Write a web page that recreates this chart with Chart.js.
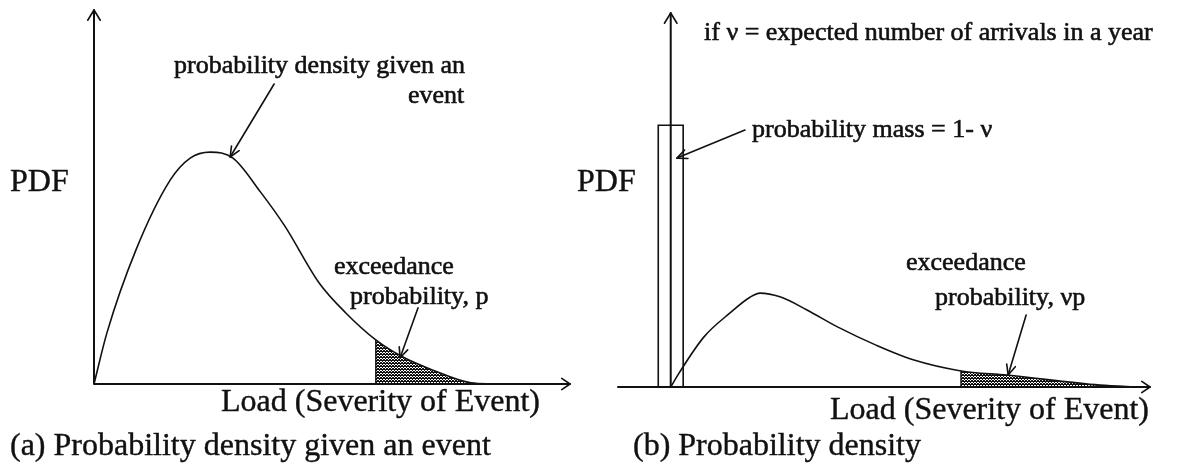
<!DOCTYPE html>
<html>
<head>
<meta charset="utf-8">
<script src="https://cdn.jsdelivr.net/npm/chart.js@4.4.1/dist/chart.umd.min.js"></script>
<style>
  html, body { margin: 0; padding: 0; background: #fff; overflow: hidden; }
  #wrap { position: relative; width: 1185px; height: 471px; background: #fff; }
  canvas { position: absolute; top: 0; }
  #ca { left: 0; }
  #cb { left: 576px; }
</style>
</head>
<body>
<div id="wrap">
  <canvas id="ca" width="576" height="471"></canvas>
  <canvas id="cb" width="609" height="471"></canvas>
</div>
<script>
// (a) density of the load, given that an event occurs
const loadA = [0, 0.27, 0.88, 1.60, 2.02, 2.44, 2.92, 3.50, 4.01, 4.73, 5.29, 5.92, 6.49, 7.12, 7.92, 8.40];
const pdfA  = [0, 0.136, 0.358, 0.545, 0.604, 0.620, 0.604, 0.513, 0.422, 0.270, 0.190, 0.118, 0.072, 0.037, 0.003, 0];
const exceedFromA = 5.92;

// (b) annual density: a point mass at zero load plus the event density scaled by nu
const loadB = [0, 0.173, 0.694, 1.237, 1.654, 1.863, 2.280, 2.843, 3.490, 4.283, 5.076, 6.056, 7.016, 8.956, 9.79];
const pdfB  = [0, 0.037, 0.134, 0.198, 0.240, 0.251, 0.241, 0.206, 0.160, 0.112, 0.072, 0.043, 0.032, 0.005, 0];
const exceedFromB = 6.056;
const massHalfWidth = 0.26;
const massHeight = 0.70;

const SERIF = '"Liberation Serif", "Times New Roman", serif';
const INK = '#111';

// stippled fill used for the exceedance areas
function stipple() {
  const c = document.createElement('canvas');
  c.width = 3; c.height = 3;
  const g = c.getContext('2d');
  g.fillStyle = '#fff';
  g.fillRect(0, 0, 3, 3);
  g.fillStyle = '#111';
  [[0,0],[2,0],[1,1],[0,2],[2,2],[1,0]].forEach(([x,y]) => g.fillRect(x, y, 1, 1));
  return g.createPattern(c, 'repeat');
}

function pts(xs, ys) { return xs.map((x, i) => ({ x, y: ys[i] })); }

function chevron(ctx, tip, from, len, ang) {
  const a = Math.atan2(tip.y - from.y, tip.x - from.x);
  ctx.beginPath();
  ctx.moveTo(tip.x - len * Math.cos(a - ang), tip.y - len * Math.sin(a - ang));
  ctx.lineTo(tip.x, tip.y);
  ctx.lineTo(tip.x - len * Math.cos(a + ang), tip.y - len * Math.sin(a + ang));
  ctx.stroke();
}

// axes with arrow heads, callout arrows, labels
const diagram = {
  id: 'diagram',
  afterDatasetsDraw(chart, args, opts) {
    const { ctx, chartArea: area, scales: { x, y } } = chart;
    const x0 = x.getPixelForValue(0);
    const y0 = y.getPixelForValue(0);
    ctx.save();
    ctx.strokeStyle = INK;
    ctx.lineCap = 'round';
    ctx.lineJoin = 'round';

    // edge of the shaded tail
    ctx.lineWidth = 1.4;
    const sx = x.getPixelForValue(opts.shadeFrom.x);
    ctx.beginPath();
    ctx.moveTo(sx, y.getPixelForValue(opts.shadeFrom.y));
    ctx.lineTo(sx, y0);
    ctx.stroke();

    // axes
    ctx.lineWidth = 2;
    ctx.beginPath();
    ctx.moveTo(x0, y0);
    ctx.lineTo(x0, area.top);
    ctx.moveTo(area.left, y0);
    ctx.lineTo(area.right, y0);
    ctx.stroke();
    ctx.lineWidth = 1.6;
    chevron(ctx, { x: x0, y: area.top }, { x: x0, y: y0 }, 12, 0.55);
    chevron(ctx, { x: area.right, y: y0 }, { x: area.left, y: y0 }, 10, 0.6);

    // callout arrows, tip anchored on the drawn data
    ctx.lineWidth = 1.6;
    opts.callouts.forEach(c => {
      const tip = { x: x.getPixelForValue(c.at[0]), y: y.getPixelForValue(c.at[1]) };
      const tail = { x: tip.x + c.tail[0], y: tip.y + c.tail[1] };
      ctx.beginPath();
      ctx.moveTo(tail.x, tail.y);
      ctx.lineTo(tip.x, tip.y);
      ctx.stroke();
      chevron(ctx, tip, tail, 11, 0.42);
    });

    // text, with a hairline outline for a heavier print weight
    ctx.fillStyle = INK;
    ctx.textBaseline = 'middle';
    opts.labels.forEach(l => {
      ctx.font = `normal ${l.size}px ${SERIF}`;
      ctx.textAlign = l.align || 'left';
      ctx.fillText(l.text, l.x, l.y);
      ctx.lineWidth = l.size < 30 ? 0.6 : 0.4;
      ctx.strokeText(l.text, l.x, l.y);
    });
    ctx.restore();
  }
};

function build(id, cfg) {
  const pattern = stipple();
  const datasets = [{
    data: pts(cfg.load, cfg.pdf),
    showLine: true,
    pointRadius: 0,
    borderColor: INK,
    borderWidth: 1.6,
    cubicInterpolationMode: 'monotone',
    fill: 'origin',
    backgroundColor: 'rgba(0,0,0,0)',
    segment: {
      backgroundColor: s => (s.p0.parsed.x >= cfg.shadeFrom - 1e-9 ? pattern : 'rgba(0,0,0,0)')
    }
  }].concat(cfg.extra || []);

  const shadeIdx = cfg.load.indexOf(cfg.shadeFrom);
  return new Chart(document.getElementById(id), {
    type: 'scatter',
    data: { datasets },
    options: {
      responsive: false,
      animation: false,
      devicePixelRatio: 1,
      events: [],
      layout: { padding: cfg.padding },
      scales: {
        x: { type: 'linear', display: false, min: cfg.xMin, max: cfg.xMax },
        y: { type: 'linear', display: false, min: 0, max: 1 }
      },
      plugins: {
        legend: { display: false },
        tooltip: { enabled: false },
        diagram: {
          shadeFrom: { x: cfg.shadeFrom, y: cfg.pdf[shadeIdx] },
          callouts: cfg.callouts,
          labels: cfg.labels
        }
      }
    },
    plugins: [diagram]
  });
}

// panel (a)
build('ca', {
  load: loadA, pdf: pdfA, shadeFrom: exceedFromA,
  xMin: 0, xMax: 10,
  padding: { left: 94, right: 6, top: 10, bottom: 87 },
  callouts: [
    { at: [2.86, 0.607], tail: [44, -73] },
    { at: [6.43, 0.070], tail: [18, -50] }
  ],
  labels: [
    { text: 'PDF', x: 10, y: 183, size: 32 },
    { text: 'probability density given an', x: 174, y: 66, size: 26 },
    { text: 'event', x: 408, y: 96, size: 26 },
    { text: 'exceedance', x: 334, y: 267, size: 26 },
    { text: 'probability, p', x: 350, y: 297, size: 26 },
    { text: 'Load (Severity of Event)', x: 540, y: 403, size: 32, align: 'right' },
    { text: '(a) Probability density given an event', x: 10, y: 447, size: 32 }
  ]
});

// panel (b)
const massOutline = [
  { x: -massHalfWidth, y: 0 }, { x: -massHalfWidth, y: massHeight },
  { x: massHalfWidth, y: massHeight }, { x: massHalfWidth, y: 0 }
];
build('cb', {
  load: loadB, pdf: pdfB, shadeFrom: exceedFromB,
  xMin: -1.1, xMax: 10,
  padding: { left: 42, right: 35, top: 13, bottom: 84 },
  extra: [{
    data: massOutline,
    showLine: true,
    pointRadius: 0,
    borderColor: INK,
    borderWidth: 1.6,
    tension: 0,
    fill: false
  }],
  callouts: [
    { at: [0.13, 0.612], tail: [68, -28] },
    { at: [7.04, 0.032], tail: [18, -60] }
  ],
  labels: [
    { text: 'if \u03bd = expected number of arrivals in a year', x: 128, y: 33, size: 26 },
    { text: 'probability mass = 1- \u03bd', x: 176, y: 130, size: 26 },
    { text: 'PDF', x: 1, y: 183, size: 32 },
    { text: 'exceedance', x: 330, y: 263, size: 26 },
    { text: 'probability, \u03bdp', x: 359, y: 298, size: 26 },
    { text: 'Load (Severity of Event)', x: 573, y: 411, size: 32, align: 'right' },
    { text: '(b) Probability density', x: 57, y: 447, size: 32 }
  ]
});
</script>
</body>
</html>
